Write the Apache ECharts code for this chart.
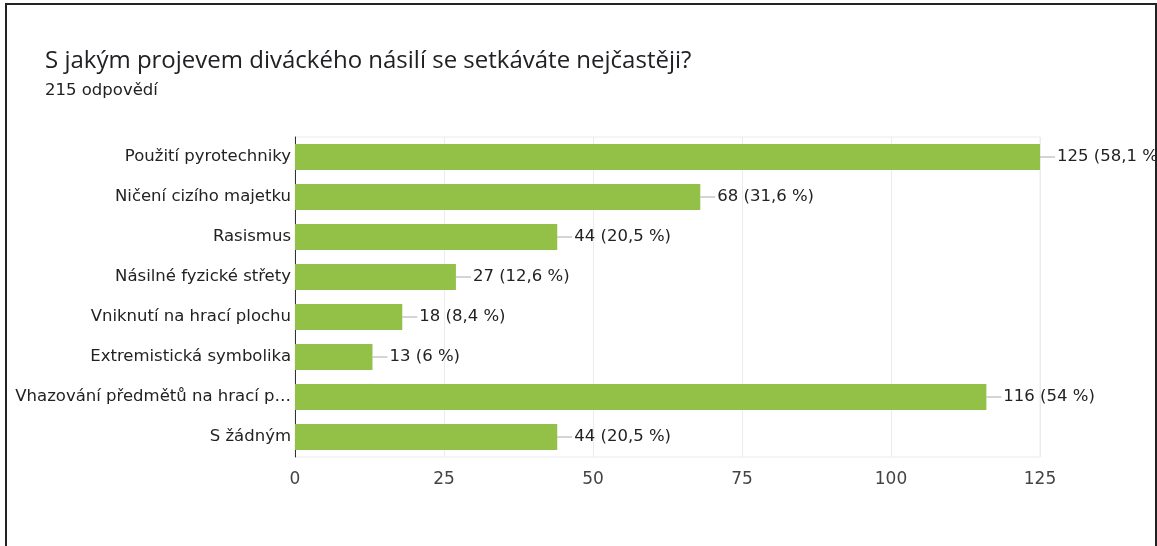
<!DOCTYPE html>
<html>
<head>
<meta charset="utf-8">
<script src="https://cdn.jsdelivr.net/npm/echarts@6/dist/echarts.min.js"></script>
<style>
	body{ margin:0; background:#fff; }
	#ch{ position:absolute; left:0; top:0; width:1157px; height:546px; }
	.frame{ position:absolute; left:5px; top:3px; width:1148px; height:560px; border:2px solid #222; pointer-events:none; }
</style>
</head>
<body>
<div id="ch"></div>
<div class="frame"></div>
<script>
	var categories = ['Použití pyrotechniky', 'Ničení cizího majetku', 'Rasismus', 'Násilné fyzické střety',
		'Vniknutí na hrací plochu', 'Extremistická symbolika', 'Vhazování předmětů na hrací p…', 'S žádným']
	var counts = [125, 68, 44, 27, 18, 13, 116, 44]
	var percents = ['58,1', '31,6', '20,5', '12,6', '8,4', '6', '54', '20,5']
	var xTicks = [0, 25, 50, 75, 100, 125]

	var chart = echarts.init(document.getElementById('ch'))
	chart.setOption({
		animation: false,
		title: {
			text: 'S jakým projevem diváckého násilí se setkáváte nejčastěji?',
			subtext: '215 odpovědí',
			left: 40,
			top: 44,
			itemGap: 9,
			textStyle: {
				fontFamily: 'Open Sans',
				fontWeight: 'normal',
				fontSize: 24,
				color: '#202124'
			},
			subtextStyle: {
				fontFamily: 'DejaVu Sans',
				fontSize: 16.5,
				color: '#202124'
			}
		},
		grid: {
			left: 295,
			right: 117,
			top: 137,
			bottom: 89,
			show: true,
			borderColor: '#ebebeb',
			borderWidth: 1
		},
		xAxis: {
			type: 'value',
			min: xTicks[0],
			max: xTicks[xTicks.length - 1],
			interval: 25,
			axisLine: { show: false },
			axisTick: { show: false },
			splitLine: { lineStyle: { color: '#ebebeb' } },
			axisLabel: {
				margin: 14,
				fontFamily: 'DejaVu Sans',
				fontSize: 17,
				color: '#444'
			}
		},
		yAxis: {
			type: 'category',
			inverse: true,
			data: categories,
			axisLine: { lineStyle: { color: '#333' } },
			axisTick: { show: false },
			axisLabel: {
				margin: 4,
				fontFamily: 'DejaVu Sans',
				fontSize: 16.5,
				color: '#222'
			}
		},
		series: [{
			type: 'bar',
			data: counts,
			barWidth: 26,
			itemStyle: { color: '#93c047' },
			label: {
				show: true,
				position: 'right',
				distance: 0,
				formatter: function (p) {
					return '{ln|}{t|' + counts[p.dataIndex] + ' (' + percents[p.dataIndex] + ' %)}'
				},
				rich: {
					ln: { width: 15, height: 1, backgroundColor: '#aaa' },
					t: {
						fontFamily: 'DejaVu Sans',
						fontSize: 16.5,
						color: '#222',
						padding: [0, 0, 0, 2]
					}
				}
			}
		}]
	})
</script>
</body>
</html>
